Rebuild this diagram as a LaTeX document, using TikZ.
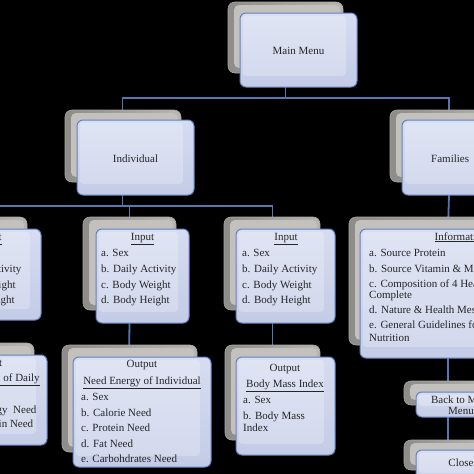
\documentclass[tikz,border=0pt]{standalone}
\usepackage{fontspec}
\setmainfont{Liberation Serif}
\definecolor{fronttop}{HTML}{D6DCF1}
\definecolor{frontbot}{HTML}{C3CBE6}
\definecolor{frontedge}{HTML}{6482BE}
\definecolor{connc}{HTML}{5677B2}
\definecolor{backleft}{HTML}{8E8C88}
\definecolor{backright}{HTML}{B8B6B2}
\definecolor{backface}{HTML}{C3C1BD}
\definecolor{txtc}{HTML}{262626}
\pgfdeclarelayer{bgzero}
\pgfdeclarelayer{lines}
\pgfsetlayers{bgzero,lines,main}
\tikzset{
  conn/.style={draw=connc, line width=1.8pt},
  frontbox/.style={draw=frontedge, line width=1pt, rounded corners=6pt,
    top color=fronttop, bottom color=frontbot, inner sep=0pt, outer sep=0pt,
    path picture={\fill[white, opacity=0.25, rounded corners=4pt]
      ([shift={(2.5pt,-2.5pt)}]path picture bounding box.north west) rectangle
      ([shift={(-11pt,11pt)}]path picture bounding box.south east);}},
  backbox/.style={draw=gray!70, line width=0.6pt, rounded corners=7pt,
    left color=backleft, right color=backright, inner sep=0pt, outer sep=0pt,
    path picture={\fill[backface, rounded corners=5pt]
      ([shift={(6pt,-3pt)}]path picture bounding box.north west) rectangle
      ([shift={(-3pt,5pt)}]path picture bounding box.south east);}},
  txt/.style={font=\fontsize{11}{13}\selectfont, text=txtc, inner sep=0pt, anchor=base west},
  ttl/.style={txt, anchor=base},
}
% name, front x1 y1 x2 y2, back x1 y1 x2 y2
\newcommand\boxpair[9]{%
  \node[backbox, minimum width={((#8)-(#6))*1pt}, minimum height={((#9)-(#7))*1pt}]
    (#1s) at ({((#6)+(#8))/2},{((#7)+(#9))/2}) {};
  \node[frontbox, minimum width={((#4)-(#2))*1pt}, minimum height={((#5)-(#3))*1pt}]
    (#1) at ({((#2)+(#4))/2},{((#3)+(#5))/2}) {};}
\newcommand\lst[3]{\foreach \yy/\lbl [count=\k] in {#3} {\node[txt] (#1-\k) at (#2,\yy) {\lbl};}}
\begin{document}
\begin{tikzpicture}[x=1pt,y=-1pt]
\useasboundingbox (0,0) rectangle (474,474);
\begin{pgfonlayer}{bgzero}
\fill[black] (0,0) rectangle (474,474);
\end{pgfonlayer}
\clip (0,0) rectangle (474,474);

% boxes
\boxpair{main}{240}{13}{357}{87}{228}{2}{343}{73}
\boxpair{indiv}{77}{120}{194}{195}{65}{110}{181}{182}
\boxpair{fam}{402}{120}{522}{195}{390}{110}{506}{182}
\boxpair{inL}{-60}{229}{41}{320}{-70}{217}{27}{308}
\boxpair{inM}{96}{229}{189}{323}{83}{217}{176}{310}
\boxpair{inR}{236}{229}{335}{323}{224}{217}{320}{310}
\boxpair{info}{360}{229}{562}{358}{349}{217}{548}{345}
\boxpair{outL}{-75}{355}{47}{445}{-85}{343}{34}{432}
\boxpair{outM}{73}{357}{211}{467}{62}{345}{197}{452}
\boxpair{outR}{236}{357}{335}{455}{225}{345}{320}{440}
\boxpair{back}{416}{392}{506}{417}{404}{381}{490}{405}
\boxpair{close}{416}{450}{506}{484}{404}{440}{490}{470}

% connectors (under the boxes)
\begin{pgfonlayer}{lines}
\draw[conn] ([xshift=-13pt]main.south) -- ++(0,11) coordinate (busA);
\draw[conn] ([xshift=-13pt]indiv.north) |- (busA) -| ([xshift=-13pt]fam.north);
\draw[conn] ([xshift=-13pt]indiv.south) -- ++(0,11) coordinate (busB);
\draw[conn] ([xshift=-13pt]inL.north) |- (busB) -| ([xshift=-13pt]inR.north);
\draw[conn] ([xshift=-13pt]inM.north) -- ([xshift=-13pt]inM.north |- busB);
\draw[conn] ([xshift=-13pt]inM.south) -- ([xshift=-13pt]outM.north);
\draw[conn] ([xshift=-13pt]inR.south) -- ([xshift=-13pt]outR.north);
\draw[conn] ([xshift=-13pt]inL.south) -- ([xshift=-13pt]outL.north);
\draw[conn] ([xshift=-13pt]fam.south) -- ([xshift=-13pt]info.north);
\draw[conn] ([xshift=-13pt]info.south) -- ([xshift=-13pt]back.north);
\draw[conn] ([xshift=-13pt]back.south) -- ([xshift=-13pt]close.north);
\end{pgfonlayer}

% texts
\node[ttl] (tmain) at (298.5,54) {Main Menu};
\node[ttl] (tindiv) at (135.5,162) {Individual};
\node[txt] (tfam) at (431,162) {Families};

\node[ttl] (tinL) at (-10,240) {\underline{Input}};
\lst{iL}{-54}{256/a. Sex, 272/b. Daily Activity, 288/c. Body Weight, 303/d. Body Height}
\node[ttl] (tinM) at (142.5,240) {\underline{Input}};
\lst{iM}{101}{256/a. Sex, 272/b. Daily Activity, 288/c. Body Weight, 303/d. Body Height}
\node[ttl] (tinR) at (286,240) {\underline{Input}};
\lst{iR}{242}{256/a. Sex, 272/b. Daily Activity, 288/c. Body Weight, 303/d. Body Height}

\node[ttl] (tinfo) at (461,240) {\underline{Information}};
\lst{iI}{369}{256/a. Source Protein, 272/b. Source Vitamin \& Mineral,
  287/c. Composition of 4 Healthy 5 Perfect, 298/Complete,
  313/d. Nature \& Health Message, 328/e. General Guidelines for Balanced, 341/Nutrition}

\node[ttl] (toutL) at (-13,366) {Output};
\node[ttl] (toutL2) at (-13,381) {\underline{Need Nutrition of Daily}};
\lst{oL}{-36}{396/a. Sex, 413/b. Energy\ \ Need, 427/c. Protein Need}

\node[ttl] (toutM) at (142,367) {Output};
\node[ttl] (toutM2) at (142,384) {\underline{Need Energy of Individual}};
\lst{oM}{81}{400/a. Sex, 416/b. Calorie Need, 431/c. Protein Need, 447/d. Fat Need, 462/e. Carbohdrates Need}

\node[ttl] (toutR) at (285,371) {Output};
\node[ttl] (toutR2) at (285,387) {\underline{Body Mass Index}};
\lst{oR}{243}{403/a. Sex, 419/b. Body Mass, 431/Index}

\node[ttl] (tback) at (461,403) {Back to Main};
\node[ttl] (tback2) at (461,414) {Menu};
\node[ttl] (tclose) at (461,466) {Close};
\end{tikzpicture}
\end{document}
